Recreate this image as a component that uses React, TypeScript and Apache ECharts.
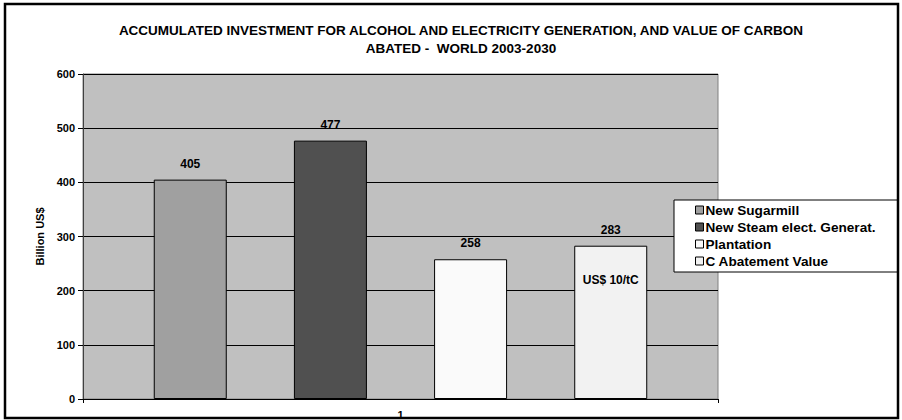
import React, { useEffect, useRef } from "react";
import * as echarts from "echarts";

const titleLines = [
  "ACCUMULATED INVESTMENT FOR ALCOHOL AND ELECTRICITY GENERATION, AND VALUE OF CARBON",
  "ABATED -  WORLD 2003-2030",
];
const categories = ["1"];
const seriesNames = ["New Sugarmill", "New Steam elect. Generat.", "Plantation", "C Abatement Value"];
const seriesValues = [[405], [477], [258], [283]];
const seriesColors = ["#A0A0A0", "#505050", "#FAFAFA", "#F2F2F2"];
const innerNote = "US$ 10/tC";
const yTicks = { min: 0, max: 600, interval: 100 };
const yName = "Billion US$";

const FONT = "Arial, 'Liberation Sans', sans-serif";

export default function App() {
  const ref = useRef<HTMLDivElement>(null);
  useEffect(() => {
    if (!ref.current) return;
    const chart = echarts.init(ref.current, undefined, { renderer: "svg" });
    const series = seriesNames.map((name, i) => {
      const last = i === seriesNames.length - 1;
      return {
        name,
        type: "bar",
        data: seriesValues[i],
        barWidth: 73,
        barGap: "92%",
        itemStyle: { color: seriesColors[i], borderColor: "#000", borderWidth: 1 },
        label: last
          ? {
              show: true,
              position: "insideTop",
              offset: [0, -28],
              distance: 5,
              formatter: (p: any) => `{v|${p.value}}\n{g|}\n{n|${innerNote}}`,
              rich: {
                v: { fontSize: 12, fontWeight: "bold", fontFamily: FONT, color: "#000", lineHeight: 14 },
                g: { lineHeight: 36, height: 36 },
                n: { fontSize: 12, fontWeight: "bold", fontFamily: FONT, color: "#000", lineHeight: 14 },
              },
            }
          : {
              show: true,
              position: "top",
              distance: 10,
              fontSize: 12,
              fontWeight: "bold",
              fontFamily: FONT,
              color: "#000",
            },
      };
    });
    chart.setOption({
      animation: false,
      backgroundColor: "#fff",
      textStyle: { fontFamily: FONT },
      title: {
        text: titleLines.join("\n"),
        left: 456,
        textAlign: "center",
        top: 16,
        textStyle: { fontSize: 13.5, fontWeight: "bold", fontFamily: FONT, color: "#000", lineHeight: 18 },
      },
      grid: {
        left: 83,
        right: 184,
        top: 74,
        bottom: 21,
        show: true,
        backgroundColor: "#C0C0C0",
        borderColor: "#808080",
        borderWidth: 1,
      },
      legend: {
        orient: "vertical",
        left: 674,
        top: 200,
        backgroundColor: "#fff",
        borderColor: "#000",
        borderWidth: 1,
        borderRadius: 0,
        padding: [3, 22, 4, 21],
        itemWidth: 8,
        itemHeight: 8,
        itemGap: 3,
        icon: "rect",
        itemStyle: { borderColor: "#000", borderWidth: 1 },
        textStyle: { fontSize: 13.6, fontWeight: "bold", fontFamily: FONT, color: "#000", lineHeight: 14, padding: [0, 0, 0, -3] },
        data: seriesNames,
      },
      xAxis: {
        type: "category",
        data: categories,
        axisLine: { show: true, lineStyle: { color: "#000" } },
        axisTick: { show: true, length: 4, lineStyle: { color: "#000" } },
        axisLabel: { fontSize: 11, fontWeight: "bold", fontFamily: FONT, color: "#000", margin: 10 },
      },
      yAxis: {
        type: "value",
        min: yTicks.min,
        max: yTicks.max,
        interval: yTicks.interval,
        name: yName,
        nameLocation: "middle",
        nameGap: 35,
        nameTextStyle: { fontSize: 11, fontWeight: "bold", fontFamily: FONT, color: "#000" },
        axisLine: { show: true, lineStyle: { color: "#404040" } },
        axisTick: { show: true, length: 5, lineStyle: { color: "#000" } },
        axisLabel: { fontSize: 11, fontWeight: "bold", fontFamily: FONT, color: "#000", margin: 8 },
        splitLine: { show: true, lineStyle: { color: "#000", width: 1 } },
      },
      graphic: [
        {
          type: "rect",
          shape: { x: 5, y: 4, width: 893, height: 414 },
          style: { fill: "none", stroke: "#000", lineWidth: 2.5 },
          z: 100,
          silent: true,
        },
      ],
      series,
    });
    return () => chart.dispose();
  }, []);
  return (
    <div
      ref={ref}
      style={{ position: "fixed", left: 0, top: 0, width: 902, height: 420 }}
    />
  );
}
